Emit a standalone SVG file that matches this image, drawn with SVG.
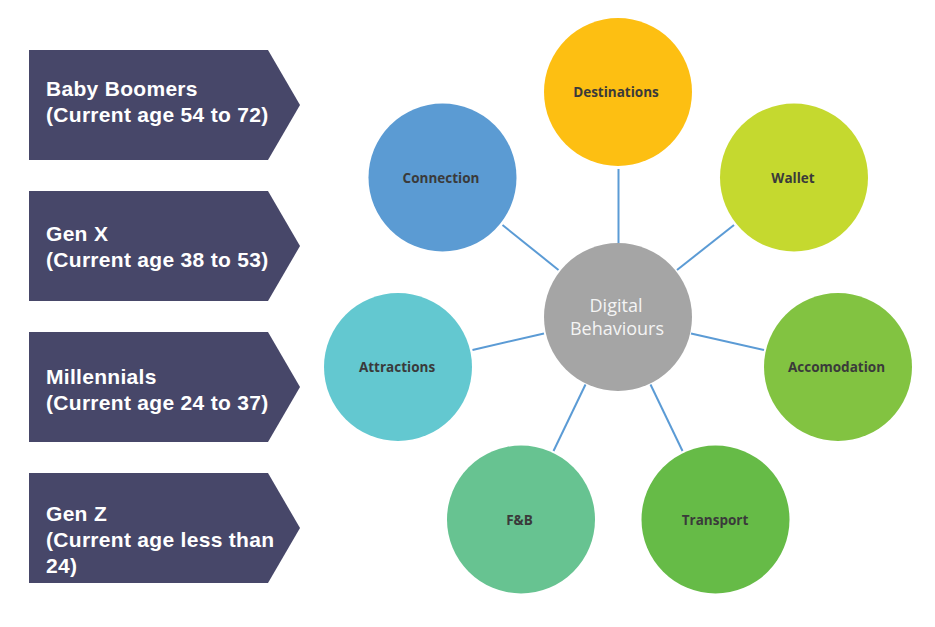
<svg xmlns="http://www.w3.org/2000/svg" width="935" height="627" viewBox="0 0 935 627">
<style>
.gen{fill:#474769}
.gt{font-family:"Liberation Sans",Arial,sans-serif;font-weight:700;font-size:21px;letter-spacing:0.3px;fill:#ffffff}
.lbl{font-family:"Open Sans","Liberation Sans",sans-serif;font-weight:700;font-size:13.5px;fill:#3a3a3a;text-anchor:middle}
.ctr{font-family:"Open Sans","Liberation Sans",sans-serif;font-size:18px;fill:#f4f4f4;text-anchor:middle}
.conn line{stroke:#5b9bd5;stroke-width:2}
</style>
<rect width="935" height="627" fill="#ffffff"/>
<g id="baby-boomers">
<polygon class="gen" points="29,50 268,50 300,105 268,160 29,160"/>
<text class="gt" x="46" y="96">Baby Boomers</text>
<text class="gt" x="46" y="122">(Current age 54 to 72)</text>
</g>
<g id="gen-x">
<polygon class="gen" points="29,191 268,191 300,246 268,301 29,301"/>
<text class="gt" x="46" y="241">Gen X</text>
<text class="gt" x="46" y="267">(Current age 38 to 53)</text>
</g>
<g id="millennials">
<polygon class="gen" points="29,332 268,332 300,387 268,442 29,442"/>
<text class="gt" x="46" y="384">Millennials</text>
<text class="gt" x="46" y="410">(Current age 24 to 37)</text>
</g>
<g id="gen-z">
<polygon class="gen" points="29,473 268,473 300,528 268,583 29,583"/>
<text class="gt" x="46" y="521">Gen Z</text>
<text class="gt" x="46" y="547">(Current age less than</text>
<text class="gt" x="46" y="573">24)</text>
</g>
<g id="connectors" class="conn">
<line x1="618.5" y1="169" x2="618.5" y2="243"/>
<line x1="502.5" y1="225" x2="558.5" y2="270"/>
<line x1="734" y1="225" x2="677" y2="270"/>
<line x1="472.5" y1="350" x2="544" y2="333.5"/>
<line x1="691" y1="333.5" x2="764" y2="350"/>
<line x1="585.5" y1="384.5" x2="553.5" y2="451"/>
<line x1="650.5" y1="384.5" x2="682.5" y2="451"/>
</g>
<g id="destinations">
<circle cx="618" cy="92" r="74" fill="#fdbf12"/>
<text class="lbl" x="616" y="97">Destinations</text>
</g>
<g id="connection">
<circle cx="442.5" cy="177.5" r="74" fill="#5b9bd3"/>
<text class="lbl" x="441" y="182.5">Connection</text>
</g>
<g id="wallet">
<circle cx="794" cy="177.5" r="74" fill="#c5d92f"/>
<text class="lbl" x="793" y="182.5">Wallet</text>
</g>
<g id="digital-behaviours">
<circle cx="618" cy="317" r="74" fill="#a5a5a5"/>
<text class="ctr" x="616" y="311.5">Digital</text>
<text class="ctr" x="617" y="335">Behaviours</text>
</g>
<g id="attractions">
<circle cx="398" cy="367" r="74" fill="#63c8d0"/>
<text class="lbl" x="397" y="372">Attractions</text>
</g>
<g id="accomodation">
<circle cx="838" cy="367" r="74" fill="#82c341"/>
<text class="lbl" x="836.5" y="372">Accomodation</text>
</g>
<g id="fb">
<circle cx="521" cy="519.5" r="74" fill="#67c391"/>
<text class="lbl" x="519.5" y="524.5">F&amp;B</text>
</g>
<g id="transport">
<circle cx="715.5" cy="519.5" r="74" fill="#66bb47"/>
<text class="lbl" x="715" y="524.5">Transport</text>
</g>
</svg>
